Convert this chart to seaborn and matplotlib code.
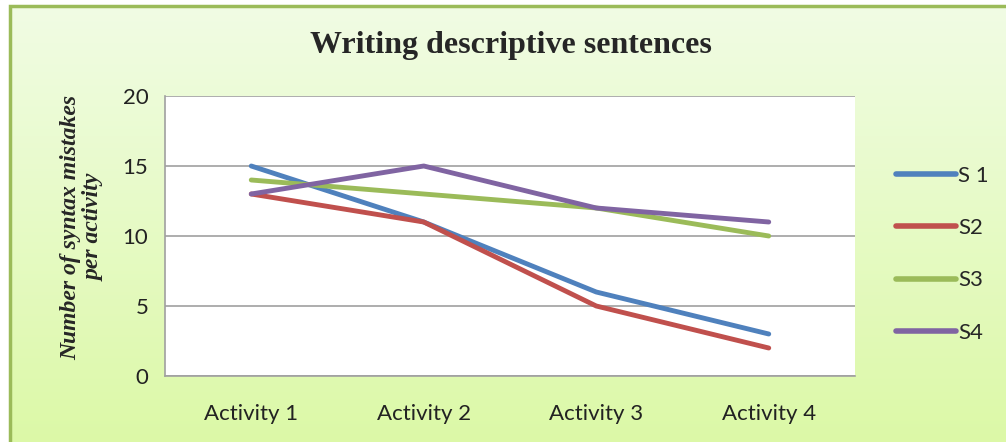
import numpy as np
import pandas as pd
import seaborn as sns
import matplotlib.pyplot as plt
from matplotlib.patches import Rectangle

activities = ['Activity 1', 'Activity 2', 'Activity 3', 'Activity 4']
s1 = [15, 11, 6, 3]
s2 = [13, 11, 5, 2]
s3 = [14, 13, 12, 10]
s4 = [13, 15, 12, 11]
series_names = ['S 1', 'S2', 'S3', 'S4']
colores = ['#4f81bd', '#c0504d', '#9bbb59', '#8064a2']

df = pd.DataFrame({
	'Activity': activities * 4,
	'Mistakes': s1 + s2 + s3 + s4,
	'Series': [n for n in series_names for _ in activities],
})

sns.set_style('white')
fig = plt.figure(figsize=(10.06, 4.42), dpi=100)

# fondo degradado verde
bg = fig.add_axes([0, 0, 1, 1], zorder=-10)
grad = np.linspace(0, 1, 256).reshape(-1, 1)
top = np.array([0.945, 0.988, 0.898])
bottom = np.array([0.863, 0.976, 0.655])
img = top + (bottom - top) * grad[:, :, None]
bg.imshow(img, aspect='auto', extent=[0, 1, 0, 1], origin='upper')
bg.set_xlim(0, 1)
bg.set_ylim(0, 1)
bg.axis('off')
bg.add_patch(Rectangle((0, 0), 9 / 1006, 1, transform=fig.transFigure, color='white', zorder=2))
bg.add_patch(Rectangle((0, 438 / 442), 1, 4 / 442, transform=fig.transFigure, color='white', zorder=2))
bg.add_patch(Rectangle((9.5 / 1006, -0.01), 1.1, (436.5 / 442) + 0.01, transform=fig.transFigure,
	fill=False, edgecolor='#9bbb59', linewidth=2.5, zorder=3))

ax = fig.add_axes([165 / 1006, 1 - 376 / 442, 690 / 1006, 280 / 442])
ax.set_facecolor('white')
sns.lineplot(data=df, x='Activity', y='Mistakes', hue='Series', palette=colores,
	linewidth=3.5, ax=ax, sort=False)

ax.set_xlim(-0.5, 3.5)
ax.set_ylim(0, 20)
ax.set_yticks([0, 5, 10, 15, 20])
ax.yaxis.grid(True, color='#a0a0a0', linewidth=1.2)
ax.set_axisbelow(True)
for s in ['top', 'right']:
	ax.spines[s].set_visible(False)
ax.spines['left'].set_color('#a0a0a0')
ax.spines['bottom'].set_color('#a0a0a0')
ax.spines['left'].set_linewidth(1.2)
ax.spines['bottom'].set_linewidth(1.2)
ax.tick_params(axis='both', length=0, labelsize=16, colors='#222222')
ax.tick_params(axis='y', pad=12)
ax.tick_params(axis='x', pad=20)
for lab in ax.get_xticklabels() + ax.get_yticklabels():
	lab.set_fontfamily('Lato')

ax.set_xlabel('')
ax.set_ylabel('Number of syntax mistakes\nper activity', fontfamily='Liberation Serif',
	fontweight='bold', fontstyle='italic', fontsize=17, linespacing=1.15)
ax.yaxis.set_label_coords(-0.088, 0.53)

fig.text(511 / 1006, 1 - 46 / 442, 'Writing descriptive sentences', ha='center', va='center',
	fontfamily='Liberation Serif', fontweight='bold', fontsize=23)

ax.legend(loc='center left', bbox_to_anchor=(1.03, 0.435), frameon=False,
	handlelength=2.7, handletextpad=0.1, labelspacing=1.45,
	prop={'family': 'Lato', 'size': 16})
for h in ax.get_legend().get_lines():
	h.set_linewidth(4)

plt.savefig('out.png', dpi=100)
